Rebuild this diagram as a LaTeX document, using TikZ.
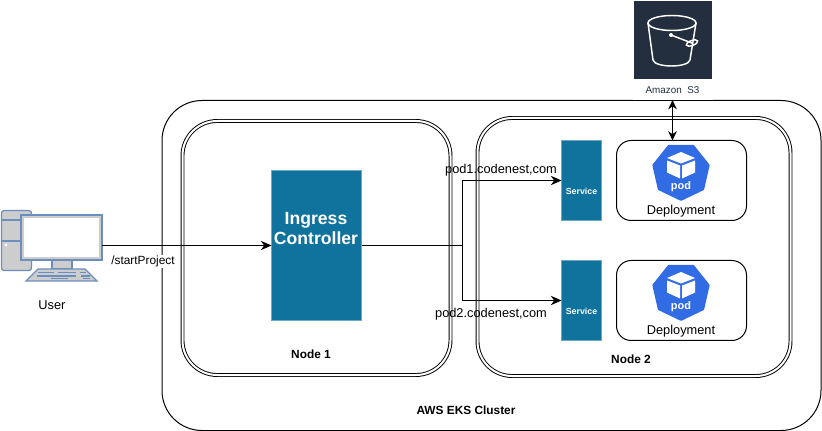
\documentclass[tikz,border=0pt]{standalone}
\usepackage{fontspec}
\setmainfont{Liberation Sans}
\usetikzlibrary{arrows.meta}
\def\px{0.75pt}
\definecolor{teal}{HTML}{10739E}
\definecolor{tealedge}{HTML}{6FA8C4}
\definecolor{awsdark}{HTML}{232F3E}
\definecolor{podblue}{HTML}{326CE5}
\definecolor{pcedge}{HTML}{6C8EBF}
\definecolor{pcfill}{HTML}{CDCDCD}
\tikzset{
 px/.style={x=\px,y=-\px},
 sz/.style 2 args={minimum width=#1*\px,minimum height=#2*\px,inner sep=0pt,outer sep=0pt},
 outerbox/.style={draw=black,line width=\px,rounded corners=30pt},
 nodebox/.style={draw=black,line width=0.7pt,double=white,double distance=1.5pt,rounded corners=26pt},
 tealbox/.style={draw=tealedge,line width=\px,fill=teal},
 tealtext/.style={text=white,align=center,inner sep=0pt},
 depbox/.style={draw=black,line width=\px,rounded corners=11pt},
 lab/.style={font=\fontsize{9.6}{11}\selectfont,text=black,inner sep=0pt},
 blab/.style={font=\fontsize{8.9}{11}\selectfont\bfseries,text=black,inner sep=0pt},
 conn/.style={draw=black,line width=\px,-{Stealth[length=8pt,width=7pt]}},
 plain/.style={draw=black,line width=\px},
 podicon/.pic={
  \fill[podblue,draw=podblue,line width=2pt,line join=round]
   (90:28) -- (141.43:28) -- (192.86:28) -- (244.29:28) -- (295.71:28) -- (347.14:28) -- (398.57:28) -- cycle;
  \fill[white] (0,-19.5) -- (14,-13.5) -- (0,-8) -- (-14,-13.5) -- cycle;
  \fill[white] (-14,-11) -- (-1,-6) -- (-1,7) -- (-14,1) -- cycle;
  \fill[white] (14,-11) -- (1,-6) -- (1,7) -- (14,1) -- cycle;
  \node[text=white,font=\fontsize{8.2}{10}\selectfont\bfseries,inner sep=0pt] at (0,15) {pod};
 }
}
\begin{document}
\begin{tikzpicture}[px]
\useasboundingbox (0,0) rectangle (822,431);
\node[outerbox,sz={659}{330}] (cluster) at (491.5,265.5) {};
\node[nodebox,sz={268}{254}] (node1) at (316.5,248) {};
\node[nodebox,sz={313}{258}] (node2) at (634,247) {};
\node[tealbox,sz={90}{150}] (ingress) at (316.5,245.5) {};
\node[tealtext,font=\fontsize{13.2}{15}\selectfont\bfseries] (ingresstext) at (316,229) {Ingress\\Controller};
\node[tealbox,sz={40}{80}] (svc1) at (581.5,180.5) {};
\node[tealbox,sz={40}{80}] (svc2) at (581.5,300.5) {};
\node[tealtext,font=\fontsize{6.6}{8}\selectfont\bfseries] (svct1) at (581.5,191) {Service};
\node[tealtext,font=\fontsize{6.6}{8}\selectfont\bfseries] (svct2) at (581.5,311) {Service};
\node[depbox,sz={130}{80}] (dep1) at (681.5,180.5) {};
\node[depbox,sz={130}{80}] (dep2) at (681.5,300.5) {};
% S3
\node[fill=awsdark,sz={78}{78}] (s3) at (673,40.5) {};
\node[fill=white,sz={80}{19},font=\fontsize{7.4}{9}\selectfont,text=awsdark] (s3lab) at (672.5,90.5) {Amazon\ \ S3};
\begin{scope}[draw=white,line width=1.1pt]
 \draw (672,23) ellipse [x radius=24,y radius=7.5];
 \draw (648,23) -- (653,60) .. controls (655,68) and (688,68) .. (690,60) -- (696,23);
 \draw (671,35) -- (693,43.5);
 \draw[rotate around={20:(692,43)}] (692,43) ellipse [x radius=6,y radius=2.5];
 \fill[white] (671,35) circle (2);
\end{scope}
% pods
\pic at (681,171.5) {podicon};
\pic at (681,291.5) {podicon};
\node[lab] (dl1) at (681,211) {Deployment};
\node[lab] (dl2) at (681,331) {Deployment};
% computer
\begin{scope}[line width=1pt,draw=pcedge,fill=pcfill]
 \node[draw=pcedge,fill=pcfill,line width=1pt,sz={30}{60},rounded corners=2pt] (tower) at (16.5,240.5) {};
 \draw (1,220) -- (22,220) (1,241) -- (22,241);
 \fill[white] (6,245) circle (1.6);
 \filldraw (52,259) rectangle (72,269);
 \filldraw (38,269) -- (85,269) -- (97,281) -- (26,281) -- cycle;
 \draw[line width=1pt] (38,272.5) -- (54,272.5) (58,272.5) -- (76,272.5) (80,272.5) -- (86,272.5)
   (37,276) -- (76,276) (81,276) -- (90,276)
   (51,278.5) -- (68,278.5) (83,278.5) -- (90,278.5);
 \node[draw=pcedge,fill=pcfill,line width=1pt,sz={81}{45}] (monitor) at (61.5,237.5) {};
 \fill[white] (24,218) rectangle (99,257);
\end{scope}
\node[lab] (user) at (52,305) {User};
% connectors
\coordinate (split) at (462,245.5);
\draw[conn] (monitor.east |- split) -- (ingress.west |- split);
\draw[plain] (ingress.east |- split) -- (split);
\draw[conn] (split) |- (svc1.west);
\draw[conn] (split) |- (svc2.west);
\draw[draw=black,line width=1.4pt,{Stealth[length=7pt,width=6.5pt]}-{Stealth[length=7pt,width=6.5pt]}] (s3lab.south) -- (s3lab.south |- dep1.north);
% labels
\node[lab,fill=white,inner xsep=1pt,inner ysep=0.5pt,font=\fontsize{8.9}{9}\selectfont] (start) at (143,261.5) {/startProject};
\node[lab] (p1) at (501,170.5) {pod1.codenest,com};
\node[lab] (p2) at (491,314.5) {pod2.codenest,com};
\node[blab] (n1) at (311,354.5) {Node 1};
\node[blab] (n2) at (631,359.5) {Node 2};
\node[blab] (aws) at (466,410.5) {AWS EKS Cluster};
\end{tikzpicture}
\end{document}
